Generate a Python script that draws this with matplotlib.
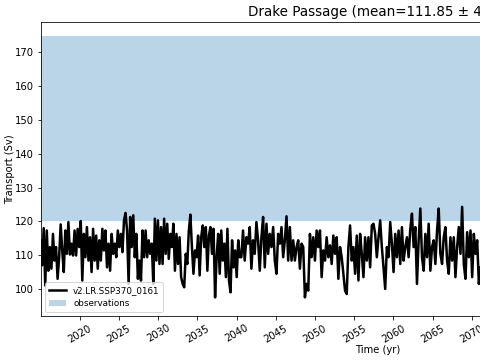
import numpy as np
import matplotlib
matplotlib.use("Agg")
import matplotlib.pyplot as plt
from matplotlib.ticker import MultipleLocator

# transport (Sv), 2015.0 -> 2040.4
transport_a = [
    114.4, 107.0, 118.0, 101.0, 117.3, 105.4, 112.4, 106.0, 116.3, 108.4,
    112.4, 103.0, 109.4, 119.1, 111.4, 105.0, 117.3, 110.4, 119.8, 110.2,
    113.4, 109.9, 117.3, 109.9, 117.8, 112.4, 120.1, 102.5, 116.3, 109.4,
    118.3, 108.4, 115.3, 105.0, 117.8, 108.4, 115.8, 106.0, 114.4, 108.4,
    117.8, 111.4, 117.3, 106.4, 113.4, 105.4, 116.3, 110.4, 113.4, 109.4,
    117.3, 112.4, 116.3, 110.9, 120.3, 122.5, 117.3, 101.5, 121.3, 112.4,
    121.8, 109.4, 116.3, 103.0, 108.4, 102.5, 117.3, 109.4, 117.3, 109.4,
    114.4, 110.4, 113.4, 101.5, 120.8, 108.4, 120.3, 107.4, 118.3, 107.4,
    120.8, 110.4, 119.3, 108.9, 116.3, 112.4, 119.3, 105.4, 116.3, 107.4,
    115.3, 103.5, 101.5, 100.5, 110.4, 107.4, 117.3, 122.0, 112.4, 104.5,
    111.4, 109.4, 115.8, 104.0, 115.3, 118.8, 112.4, 118.3, 105.4, 115.8,
    118.3, 110.4, 117.8, 97.5, 109.4, 116.3, 104.5, 117.3, 108.4, 113.4,
    103.5, 117.8, 102.5, 99.0, 114.4, 106.4, 111.4, 103.5, 114.4, 109.4,
]
# 2040.6 -> 2071.1
transport_b = [
    109.4, 117.3, 108.4, 115.3, 113.4, 118.3, 106.0, 114.4, 110.4, 119.8,
    114.4, 105.4, 115.3, 121.3, 106.4, 119.3, 110.4, 116.3, 112.4, 118.3,
    108.4, 104.5, 116.3, 113.4, 118.3, 109.4, 114.4, 121.5, 108.4, 118.3,
    108.4, 114.4, 108.4, 112.4, 114.4, 106.0, 113.4, 112.4, 97.5, 101.5,
    99.5, 116.3, 109.4, 115.3, 108.4, 117.3, 112.4, 117.3, 103.5, 111.4,
    108.4, 115.3, 109.4, 112.9, 107.4, 115.8, 110.4, 115.3, 103.0, 112.4,
    109.4, 104.5, 99.5, 98.5, 112.4, 118.8, 108.4, 112.4, 104.5, 115.8,
    102.5, 116.3, 110.4, 103.5, 115.3, 108.4, 115.3, 106.4, 118.8, 119.3,
    116.3, 109.4, 115.3, 120.3, 112.4, 106.4, 100.0, 112.4, 109.4, 119.8,
    113.4, 105.0, 116.3, 109.4, 117.3, 107.4, 118.3, 108.4, 112.4, 115.3,
    109.4, 117.8, 122.3, 112.4, 118.3, 101.5, 114.4, 123.8, 109.4, 105.4,
    116.3, 109.4, 119.3, 105.4, 112.4, 114.4, 107.4, 117.3, 123.8, 110.4,
    107.4, 115.3, 118.3, 108.4, 104.5, 115.3, 108.4, 115.3, 103.5, 112.4,
    118.3, 110.4, 124.3, 107.4, 103.0, 116.8, 109.4, 117.3, 103.5, 116.3,
    110.4, 114.4, 101.5, 106.4,
]
seg_a = (2015.0, 2040.4)
seg_b = (2040.6, 2071.1)

obs_low, obs_high = 120.0, 175.0
run_name = "v2.LR.SSP370_0161"
title = "Drake Passage (mean=111.85 \u00b1 4.21)"

time = np.concatenate([
    np.linspace(seg_a[0], seg_a[1], len(transport_a)),
    np.linspace(seg_b[0], seg_b[1], len(transport_b)),
])
transport = np.array(transport_a + transport_b)

fig = plt.figure(figsize=(480 / 72, 360 / 72), dpi=72)
ax = fig.add_axes([41 / 480, 44 / 360, 674 / 480, 294 / 360])

ax.plot(time, transport, color="k", lw=2.5, label=run_name)
ax.fill_between([2015.05, 2101], obs_low, obs_high, alpha=0.3, lw=0,
                label="observations")

ax.set_xlim(2015.05, 2101)
ax.set_ylim(92, 179)
ax.xaxis.set_major_locator(MultipleLocator(5))
plt.setp(ax.get_xticklabels(), rotation=30)
ax.set_xlabel("Time (yr)", labelpad=1)
ax.set_ylabel("Transport (Sv)")
ax.yaxis.set_label_coords(-26 / 674, 0.5)
ax.set_title(title, fontsize=13.5)
ax.legend(loc="lower left", fontsize=8.7)

fig.savefig("out.png", dpi=72)
